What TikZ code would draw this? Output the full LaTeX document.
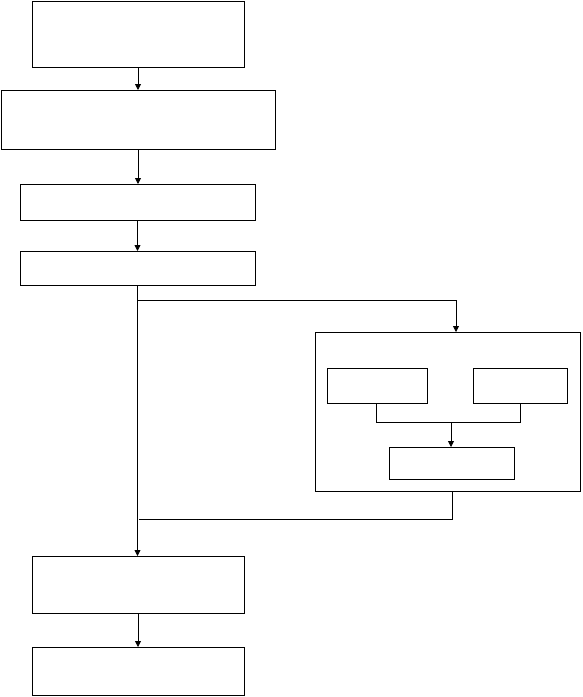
\documentclass[tikz,border=0pt]{standalone}
\usetikzlibrary{arrows.meta}
\begin{document}
\begin{tikzpicture}[x=1pt,y=-1pt,
  box/.style={draw,line width=0.8pt,inner sep=0pt,outer sep=0pt,rectangle},
  arr/.style={line width=0.8pt,-{Triangle[width=6pt,length=6pt]}},
  ln/.style={line width=0.8pt}]
\useasboundingbox (0,0) rectangle (582,697);
% main column
\node[box,minimum width=212pt,minimum height=66pt] (b1) at (138,34) {};
\node[box,minimum width=274pt,minimum height=59pt] (b2) at (138,119.5) {};
\node[box,minimum width=235pt,minimum height=36pt] (b3) at (137.5,202) {};
\node[box,minimum width=235pt,minimum height=34pt] (b4) at (137.5,268) {};
\node[box,minimum width=212pt,minimum height=57pt] (b5) at (138,584.5) {};
\node[box,minimum width=212pt,minimum height=48pt] (b6) at (138,671) {};
% right group
\node[box,minimum width=265pt,minimum height=159pt] (outer) at (447.5,411.5) {};
\node[box,minimum width=100pt,minimum height=35pt] (il) at (377,385.5) {};
\node[box,minimum width=94pt,minimum height=35pt] (ir) at (520,385.5) {};
\node[box,minimum width=125pt,minimum height=32pt] (ib) at (451.5,463) {};
% connectors
\draw[arr] (b1.south) -- (b1.south |- b2.north);
\draw[arr] (b2.south) -- (b2.south |- b3.north);
\draw[arr] (b3.south) -- (b3.south |- b4.north);
\draw[arr] (b4.south) -- (b4.south |- b5.north);
\draw[arr] (b5.south) -- (b5.south |- b6.north);
\coordinate (j1) at (138,300);
\coordinate (tin) at (456,332);
\draw[arr] (j1) -| (tin);
\coordinate (ml) at (376,422);
\coordinate (mr) at (520,422);
\coordinate (mm) at (451,422);
\draw[ln] (ml |- il.south) -- (ml) -- (mr) -- (mr |- ir.south);
\draw[arr] (mm) -- (mm |- ib.north);
\coordinate (rb) at (452,519);
\coordinate (rj) at (139,519);
\draw[ln] (rb |- outer.south) -- (rb) -- (rj);
\end{tikzpicture}
\end{document}
